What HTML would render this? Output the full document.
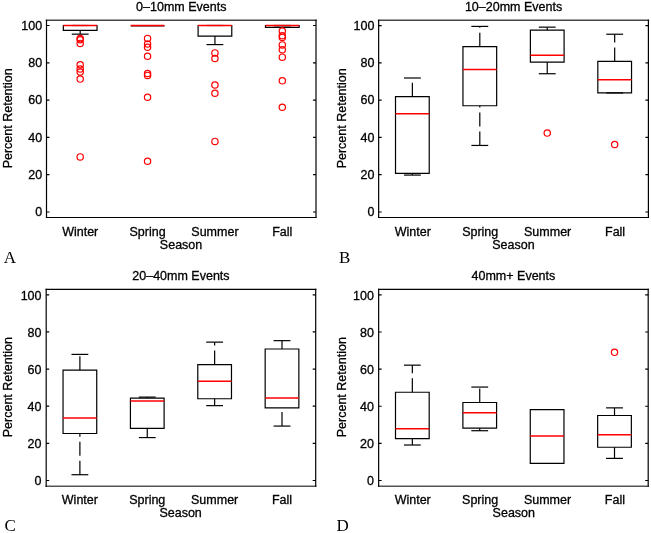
<!DOCTYPE html>
<html><head><meta charset="utf-8"><style>
html,body{margin:0;padding:0;background:#fff;}
body{width:651px;height:533px;overflow:hidden;position:relative;}
svg{display:block;position:absolute;left:0;top:0;}
svg.a{will-change:transform;}
text{font-family:"Liberation Sans",sans-serif;font-size:12.5px;fill:#000;stroke:#000;stroke-width:0.3px;}
text.lt{font-family:"Liberation Serif",serif;font-size:17px;stroke:none;}
.ln{fill:none;stroke:#000;stroke-width:1.2;}
.wh{fill:none;stroke:#000;stroke-width:1.2;stroke-dasharray:14 5;}
.md{fill:none;stroke:#f00;stroke-width:1.5;}
.ol{fill:none;stroke:#f00;stroke-width:1.2;}
.ax{fill:none;stroke:#000;stroke-width:1.2;}
</style></head><body>
<svg class="a" width="651" height="533" viewBox="0 0 651 533">
<rect width="651" height="533" fill="#fff"/>
<path d="M80.19 34.17V30.44" class="wh"/>
<path d="M71.77 25.5H88.61" class="ln"/>
<path d="M71.77 34.17H88.61" class="ln"/>
<path d="M63.34 30.44H97.03V25.5H63.34Z" class="ln"/>
<path d="M63.34 25.5H97.03" class="md"/>
<circle cx="80.19" cy="38.6" r="3.15" class="ol"/>
<circle cx="80.19" cy="39.8" r="3.15" class="ol"/>
<circle cx="80.19" cy="43.4" r="3.15" class="ol"/>
<circle cx="80.19" cy="64.7" r="3.15" class="ol"/>
<circle cx="80.19" cy="69" r="3.15" class="ol"/>
<circle cx="80.19" cy="72" r="3.15" class="ol"/>
<circle cx="80.19" cy="79.1" r="3.15" class="ol"/>
<circle cx="80.19" cy="156.9" r="3.15" class="ol"/>
<path d="M130.72 25.95H164.41V25.95H130.72Z" class="ln"/>
<path d="M130.72 25.5H164.41" class="md"/>
<circle cx="147.56" cy="38.4" r="3.15" class="ol"/>
<circle cx="147.56" cy="44" r="3.15" class="ol"/>
<circle cx="147.56" cy="47.3" r="3.15" class="ol"/>
<circle cx="147.56" cy="56.2" r="3.15" class="ol"/>
<circle cx="147.56" cy="73.5" r="3.15" class="ol"/>
<circle cx="147.56" cy="75.4" r="3.15" class="ol"/>
<circle cx="147.56" cy="97.2" r="3.15" class="ol"/>
<circle cx="147.56" cy="161.3" r="3.15" class="ol"/>
<path d="M214.94 44.6V36.03" class="wh"/>
<path d="M206.52 25.5H223.36" class="ln"/>
<path d="M206.52 44.6H223.36" class="ln"/>
<path d="M198.09 36.03H231.78V25.5H198.09Z" class="ln"/>
<path d="M198.09 25.5H231.78" class="md"/>
<circle cx="214.94" cy="52.89" r="3.15" class="ol"/>
<circle cx="214.94" cy="58.48" r="3.15" class="ol"/>
<circle cx="214.94" cy="84.93" r="3.15" class="ol"/>
<circle cx="214.94" cy="93.31" r="3.15" class="ol"/>
<circle cx="214.94" cy="141.38" r="3.15" class="ol"/>
<path d="M273.89 25.5H290.73" class="ln"/>
<path d="M273.89 27.28H290.73" class="ln"/>
<path d="M265.47 27.28H299.16V25.5H265.47Z" class="ln"/>
<path d="M265.47 25.5H299.16" class="md"/>
<circle cx="282.31" cy="31.09" r="3.15" class="ol"/>
<circle cx="282.31" cy="35.75" r="3.15" class="ol"/>
<circle cx="282.31" cy="37.42" r="3.15" class="ol"/>
<circle cx="282.31" cy="44.88" r="3.15" class="ol"/>
<circle cx="282.31" cy="49.72" r="3.15" class="ol"/>
<circle cx="282.31" cy="57.17" r="3.15" class="ol"/>
<circle cx="282.31" cy="80.83" r="3.15" class="ol"/>
<circle cx="282.31" cy="107.29" r="3.15" class="ol"/>
<path d="M46.5 20.35H316" fill="none" stroke="#444" stroke-width="1.5" stroke-linecap="square"/>
<path d="M46.5 217.5H316" fill="none" stroke="#000" stroke-width="1.2" stroke-linecap="square"/>
<path d="M46.5 20.35V217.5" fill="none" stroke="#000" stroke-width="1.2" stroke-linecap="square"/>
<path d="M316 20.35V217.5" fill="none" stroke="#000" stroke-width="1.2" stroke-linecap="square"/>
<path d="M46.5 212h3M316 212h-3" class="ax"/>
<text x="42.2" y="216.3" text-anchor="end">0</text>
<path d="M46.5 174.7h3M316 174.7h-3" class="ax"/>
<text x="42.2" y="179" text-anchor="end">20</text>
<path d="M46.5 137.4h3M316 137.4h-3" class="ax"/>
<text x="42.2" y="141.7" text-anchor="end">40</text>
<path d="M46.5 100.1h3M316 100.1h-3" class="ax"/>
<text x="42.2" y="104.4" text-anchor="end">60</text>
<path d="M46.5 62.8h3M316 62.8h-3" class="ax"/>
<text x="42.2" y="67.1" text-anchor="end">80</text>
<path d="M46.5 25.5h3M316 25.5h-3" class="ax"/>
<text x="42.2" y="29.8" text-anchor="end">100</text>
<text x="80.19" y="235.9" text-anchor="middle">Winter</text>
<text x="147.56" y="235.9" text-anchor="middle">Spring</text>
<text x="214.94" y="235.9" text-anchor="middle">Summer</text>
<text x="282.31" y="235.9" text-anchor="middle">Fall</text>
<text x="181.05" y="249.1" text-anchor="middle">Season</text>
<text x="181.25" y="11.15" text-anchor="middle">0–10mm Events</text>
<text transform="translate(11.5 118.33) rotate(-90)" text-anchor="middle">Percent Retention</text>
<text x="3.8" y="262.8" class="lt">A</text>
<path d="M412.37 96.64V78.01" class="wh"/>
<path d="M412.37 175.08V173.4" class="wh"/>
<path d="M403.94 78.01H420.8" class="ln"/>
<path d="M403.94 175.08H420.8" class="ln"/>
<path d="M395.51 173.4H429.23V96.64H395.51Z" class="ln"/>
<path d="M395.51 113.78H429.23" class="md"/>
<path d="M479.81 46.72V26.41" class="wh"/>
<path d="M479.81 145.45V105.77" class="wh"/>
<path d="M471.38 26.41H488.24" class="ln"/>
<path d="M471.38 145.45H488.24" class="ln"/>
<path d="M462.95 105.77H496.67V46.72H462.95Z" class="ln"/>
<path d="M462.95 69.44H496.67" class="md"/>
<path d="M547.24 30.13V27.15" class="wh"/>
<path d="M547.24 73.73V62.18" class="wh"/>
<path d="M538.81 27.15H555.67" class="ln"/>
<path d="M538.81 73.73H555.67" class="ln"/>
<path d="M530.38 62.18H564.1V30.13H530.38Z" class="ln"/>
<path d="M530.38 55.29H564.1" class="md"/>
<circle cx="547.24" cy="133.1" r="3.15" class="ol"/>
<path d="M614.68 61.43V34.23" class="wh"/>
<path d="M606.25 34.23H623.11" class="ln"/>
<path d="M606.25 92.92H623.11" class="ln"/>
<path d="M597.82 92.92H631.54V61.43H597.82Z" class="ln"/>
<path d="M597.82 79.69H631.54" class="md"/>
<circle cx="614.68" cy="144.55" r="3.15" class="ol"/>
<path d="M378.65 20.35H648.4" fill="none" stroke="#444" stroke-width="1.5" stroke-linecap="square"/>
<path d="M378.65 217.5H648.4" fill="none" stroke="#000" stroke-width="1.2" stroke-linecap="square"/>
<path d="M378.65 20.35V217.5" fill="none" stroke="#000" stroke-width="1.2" stroke-linecap="square"/>
<path d="M648.4 20.35V217.5" fill="none" stroke="#000" stroke-width="1.2" stroke-linecap="square"/>
<path d="M378.65 212h3M648.4 212h-3" class="ax"/>
<text x="374.35" y="216.3" text-anchor="end">0</text>
<path d="M378.65 174.72h3M648.4 174.72h-3" class="ax"/>
<text x="374.35" y="179.02" text-anchor="end">20</text>
<path d="M378.65 137.44h3M648.4 137.44h-3" class="ax"/>
<text x="374.35" y="141.74" text-anchor="end">40</text>
<path d="M378.65 100.16h3M648.4 100.16h-3" class="ax"/>
<text x="374.35" y="104.46" text-anchor="end">60</text>
<path d="M378.65 62.88h3M648.4 62.88h-3" class="ax"/>
<text x="374.35" y="67.18" text-anchor="end">80</text>
<path d="M378.65 25.6h3M648.4 25.6h-3" class="ax"/>
<text x="374.35" y="29.9" text-anchor="end">100</text>
<text x="412.77" y="235.9" text-anchor="middle">Winter</text>
<text x="480.21" y="235.9" text-anchor="middle">Spring</text>
<text x="547.64" y="235.9" text-anchor="middle">Summer</text>
<text x="615.08" y="235.9" text-anchor="middle">Fall</text>
<text x="513.42" y="249.1" text-anchor="middle">Season</text>
<text x="513.52" y="11.15" text-anchor="middle">10–20mm Events</text>
<text transform="translate(345.9 118.33) rotate(-90)" text-anchor="middle">Percent Retention</text>
<text x="338.9" y="262.8" class="lt">B</text>
<path d="M79.89 370.17V354.39" class="wh"/>
<path d="M79.89 474.72V433.5" class="wh"/>
<path d="M71.47 354.39H88.31" class="ln"/>
<path d="M71.47 474.72H88.31" class="ln"/>
<path d="M63.04 433.5H96.73V370.17H63.04Z" class="ln"/>
<path d="M63.04 417.9H96.73" class="md"/>
<path d="M147.26 398.03V397.1" class="wh"/>
<path d="M147.26 437.58V428.3" class="wh"/>
<path d="M138.84 397.1H155.68" class="ln"/>
<path d="M138.84 437.58H155.68" class="ln"/>
<path d="M130.42 428.3H164.11V398.03H130.42Z" class="ln"/>
<path d="M130.42 401H164.11" class="md"/>
<path d="M214.64 364.6V342.13" class="wh"/>
<path d="M214.64 405.64V398.77" class="wh"/>
<path d="M206.22 342.13H223.06" class="ln"/>
<path d="M206.22 405.64H223.06" class="ln"/>
<path d="M197.79 398.77H231.48V364.6H197.79Z" class="ln"/>
<path d="M197.79 381.13H231.48" class="md"/>
<path d="M282.01 349V340.65" class="wh"/>
<path d="M282.01 426.07V407.87" class="wh"/>
<path d="M273.59 340.65H290.43" class="ln"/>
<path d="M273.59 426.07H290.43" class="ln"/>
<path d="M265.17 407.87H298.86V349H265.17Z" class="ln"/>
<path d="M265.17 398.03H298.86" class="md"/>
<path d="M46.2 289.4H315.7" fill="none" stroke="#000" stroke-width="1.2" stroke-linecap="square"/>
<path d="M46.2 486.2H315.7" fill="none" stroke="#555" stroke-width="1.5" stroke-linecap="square"/>
<path d="M46.2 289.4V486.2" fill="none" stroke="#000" stroke-width="1.2" stroke-linecap="square"/>
<path d="M315.7 289.4V486.2" fill="none" stroke="#000" stroke-width="1.2" stroke-linecap="square"/>
<path d="M46.2 480.5h3M315.7 480.5h-3" class="ax"/>
<text x="41.5" y="485.2" text-anchor="end">0</text>
<path d="M46.2 443.36h3M315.7 443.36h-3" class="ax"/>
<text x="41.5" y="448.06" text-anchor="end">20</text>
<path d="M46.2 406.22h3M315.7 406.22h-3" class="ax"/>
<text x="41.5" y="410.92" text-anchor="end">40</text>
<path d="M46.2 369.08h3M315.7 369.08h-3" class="ax"/>
<text x="41.5" y="373.78" text-anchor="end">60</text>
<path d="M46.2 331.94h3M315.7 331.94h-3" class="ax"/>
<text x="41.5" y="336.64" text-anchor="end">80</text>
<path d="M46.2 294.8h3M315.7 294.8h-3" class="ax"/>
<text x="41.5" y="299.5" text-anchor="end">100</text>
<text x="79.89" y="504.4" text-anchor="middle">Winter</text>
<text x="147.26" y="504.4" text-anchor="middle">Spring</text>
<text x="214.64" y="504.4" text-anchor="middle">Summer</text>
<text x="282.01" y="504.4" text-anchor="middle">Fall</text>
<text x="180.6" y="517.05" text-anchor="middle">Season</text>
<text x="180.95" y="280.2" text-anchor="middle">20–40mm Events</text>
<text transform="translate(11.5 387.2) rotate(-90)" text-anchor="middle">Percent Retention</text>
<text x="4.6" y="531" class="lt">C</text>
<path d="M412.34 392.27V365.16" class="wh"/>
<path d="M412.34 445.01V438.7" class="wh"/>
<path d="M403.92 365.16H420.77" class="ln"/>
<path d="M403.92 445.01H420.77" class="ln"/>
<path d="M395.5 438.7H429.19V392.27H395.5Z" class="ln"/>
<path d="M395.5 428.85H429.19" class="md"/>
<path d="M479.73 402.48V387.07" class="wh"/>
<path d="M479.73 430.71V428.11" class="wh"/>
<path d="M471.31 387.07H488.15" class="ln"/>
<path d="M471.31 430.71H488.15" class="ln"/>
<path d="M462.88 428.11H496.58V402.48H462.88Z" class="ln"/>
<path d="M462.88 412.7H496.58" class="md"/>
<path d="M530.27 463.39H563.97V409.54H530.27Z" class="ln"/>
<path d="M530.27 436.1H563.97" class="md"/>
<path d="M614.51 415.48V407.87" class="wh"/>
<path d="M614.51 458.38V447.24" class="wh"/>
<path d="M606.08 407.87H622.93" class="ln"/>
<path d="M606.08 458.38H622.93" class="ln"/>
<path d="M597.66 447.24H631.35V415.48H597.66Z" class="ln"/>
<path d="M597.66 434.8H631.35" class="md"/>
<circle cx="614.51" cy="352.35" r="3.15" class="ol"/>
<path d="M378.65 289.4H648.2" fill="none" stroke="#000" stroke-width="1.2" stroke-linecap="square"/>
<path d="M378.65 486.2H648.2" fill="none" stroke="#555" stroke-width="1.5" stroke-linecap="square"/>
<path d="M378.65 289.4V486.2" fill="none" stroke="#000" stroke-width="1.2" stroke-linecap="square"/>
<path d="M648.2 289.4V486.2" fill="none" stroke="#000" stroke-width="1.2" stroke-linecap="square"/>
<path d="M378.65 480.5h3M648.2 480.5h-3" class="ax"/>
<text x="373.95" y="485.2" text-anchor="end">0</text>
<path d="M378.65 443.38h3M648.2 443.38h-3" class="ax"/>
<text x="373.95" y="448.08" text-anchor="end">20</text>
<path d="M378.65 406.26h3M648.2 406.26h-3" class="ax"/>
<text x="373.95" y="410.96" text-anchor="end">40</text>
<path d="M378.65 369.14h3M648.2 369.14h-3" class="ax"/>
<text x="373.95" y="373.84" text-anchor="end">60</text>
<path d="M378.65 332.02h3M648.2 332.02h-3" class="ax"/>
<text x="373.95" y="336.72" text-anchor="end">80</text>
<path d="M378.65 294.9h3M648.2 294.9h-3" class="ax"/>
<text x="373.95" y="299.6" text-anchor="end">100</text>
<text x="412.74" y="504.4" text-anchor="middle">Winter</text>
<text x="480.13" y="504.4" text-anchor="middle">Spring</text>
<text x="547.52" y="504.4" text-anchor="middle">Summer</text>
<text x="614.91" y="504.4" text-anchor="middle">Fall</text>
<text x="513.82" y="517.05" text-anchor="middle">Season</text>
<text x="513.42" y="280.2" text-anchor="middle">40mm+ Events</text>
<text transform="translate(345.9 387.2) rotate(-90)" text-anchor="middle">Percent Retention</text>
<text x="336.4" y="531" class="lt">D</text>
</svg>
</body></html>
